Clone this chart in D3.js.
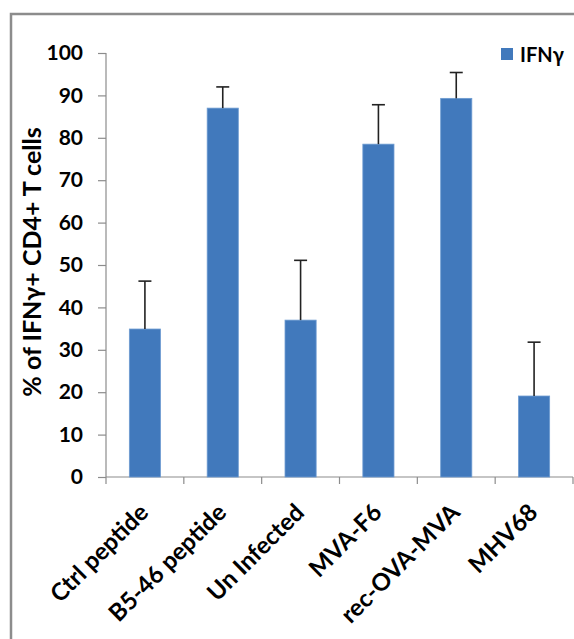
<!DOCTYPE html>
<html><head><meta charset="utf-8">
<script src="https://cdn.jsdelivr.net/npm/d3@7"></script>
<style>
html,body{margin:0;padding:0;background:#fff;}
svg{display:block;font-family:Lato,"Open Sans",sans-serif;font-weight:bold;}
</style></head>
<body>
<svg id="chart" width="574" height="639"></svg>
<script>
const categories = ["Ctrl peptide","B5-46 peptide","Un Infected","MVA-F6","rec-OVA-MVA","MHV68"];
const values = [34.9, 87.0, 37.0, 78.5, 89.3, 19.1];
const errors = [11.3, 5.0, 14.1, 9.3, 6.1, 12.7];
const yTicks = [0,10,20,30,40,50,60,70,80,90,100];
const seriesName = "IFNγ";

const svg = d3.select("#chart");
const m = {left:106, right:1, top:53, bottom:162};
const W = 574, H = 639;

// outer border (partial frame)
svg.append("path").attr("d","M11,639 V14 H574").attr("fill","none").attr("stroke","#8c8c8c").attr("stroke-width",2.5);

const x = d3.scaleBand().domain(categories).range([m.left, W - m.right]).paddingInner(0.6).paddingOuter(0.3);
const y = d3.scaleLinear().domain([0,100]).range([H - m.bottom, m.top]);

// y axis
const ya = svg.append("g").attr("transform",`translate(${m.left},0)`)
  .call(d3.axisLeft(y).tickValues(yTicks).tickSize(8).tickPadding(15));
ya.selectAll("path,line").attr("stroke","#8c8c8c").attr("stroke-width",1.2);
ya.select(".domain").attr("d",`M0,${y(100)}V${y(0)}`);
ya.selectAll("text").attr("font-size",21).attr("font-weight","bold").attr("fill","#000").attr("font-family","Lato");

// x axis line with ticks at category boundaries
const xa = svg.append("g");
xa.append("line").attr("x1",m.left).attr("x2",W - m.right).attr("y1",y(0)).attr("y2",y(0)).attr("stroke","#8c8c8c").attr("stroke-width",1.2);
const bounds = d3.range(categories.length+1).map(i => m.left + i*((W-m.right-m.left)/categories.length));
xa.selectAll("line.tk").data(bounds).enter().append("line").attr("class","tk")
  .attr("x1",d=>d).attr("x2",d=>d).attr("y1",y(0)).attr("y2",y(0)+7).attr("stroke","#8c8c8c").attr("stroke-width",1.2);

// x labels
svg.append("g").selectAll("text").data(categories).enter().append("text")
  .attr("transform",d=>`translate(${x(d)+x.bandwidth()/2+5},${y(0)+37}) rotate(-45)`)
  .attr("text-anchor","end").attr("font-size",24).attr("fill","#000").text(d=>d);

// bars
svg.append("g").selectAll("rect").data(categories).enter().append("rect")
  .attr("x",d=>x(d)).attr("width",x.bandwidth())
  .attr("y",(d,i)=>y(values[i])).attr("height",(d,i)=>y(0)-y(values[i]))
  .attr("fill","#4179bc").attr("stroke","#6d9bd1").attr("stroke-width",0.8);

// error bars
const eg = svg.append("g").attr("stroke","#222").attr("stroke-width",1.6);
categories.forEach((c,i)=>{
  const cx = x(c)+x.bandwidth()/2;
  eg.append("line").attr("x1",cx).attr("x2",cx).attr("y1",y(values[i])).attr("y2",y(values[i]+errors[i]));
  eg.append("line").attr("x1",cx-6.5).attr("x2",cx+6.5).attr("y1",y(values[i]+errors[i])).attr("y2",y(values[i]+errors[i]));
});

// y title
svg.append("text").attr("transform",`translate(41,${(y(0)+y(100))/2 - 3}) rotate(-90)`)
  .attr("text-anchor","middle").attr("font-size",25).attr("fill","#000").text("% of IFNγ+ CD4+ T cells");

// legend
const lg = svg.append("g").attr("transform","translate(501,48)");
lg.append("rect").attr("width",12).attr("height",12).attr("fill","#4179bc");
lg.append("text").attr("x",19).attr("y",14).attr("font-size",20).attr("fill","#000").text(seriesName);
</script>
</body></html>
